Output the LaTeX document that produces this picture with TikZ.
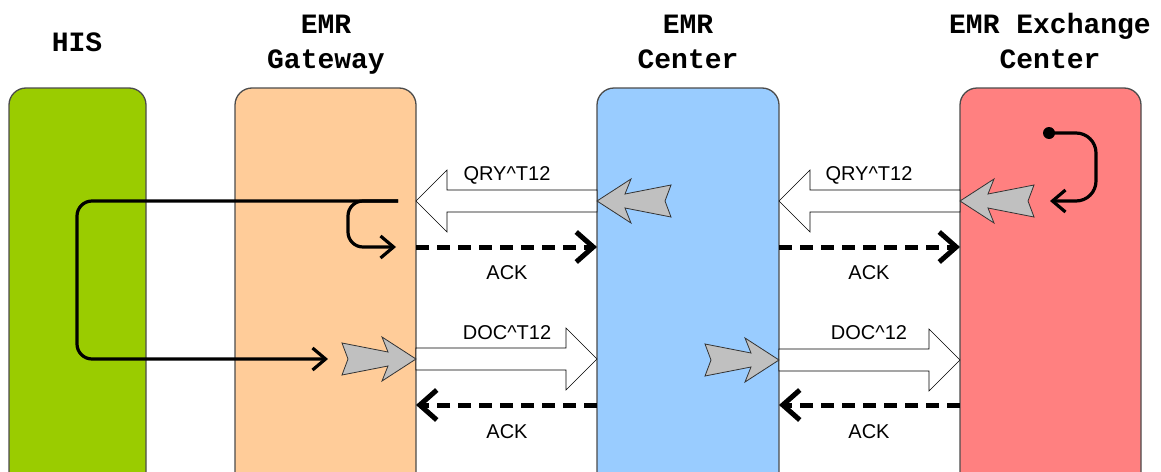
\documentclass[tikz,border=0pt]{standalone}
\usepackage{fontspec}
\setmainfont{Liberation Sans}
\newfontfamily\titlefont{Liberation Mono}
\usetikzlibrary{arrows.meta}
\definecolor{hisgreen}{RGB}{154,204,0}
\definecolor{gwora}{RGB}{255,204,153}
\definecolor{ctrblue}{RGB}{153,204,255}
\definecolor{excred}{RGB}{255,128,128}
\definecolor{feather}{RGB}{192,192,192}
\tikzset{
  lane/.style={draw=black!70, line width=1.3pt, rounded corners=17pt, minimum height=520pt, anchor=north, inner sep=0pt, outer sep=0pt},
  titletext/.style={font=\titlefont\bfseries\fontsize{28}{34}\selectfont, anchor=base, inner sep=0pt},
  lbl/.style={font=\fontsize{20}{24}\selectfont, anchor=base, inner sep=0pt},
  block/.style={draw=black, line width=0.6pt, fill=white, line join=miter},
  feath/.style={draw=black!80, line width=0.8pt, fill=feather, line join=miter},
  ack/.style={line width=5pt, dash pattern=on 13pt off 8pt, -{Straight Barb[length=17pt,width=30pt]}},
  flow/.style={line width=3.2pt, rounded corners=15pt, -{Straight Barb[length=13pt,width=22pt]}},
  pics/blockarrow/.style={code={
    \draw[block] (0,0) -- (-31,-31) -- (-31,-11) -- (-181,-11) -- (-181,11) -- (-31,11) -- (-31,31) -- cycle;}},
  pics/featherarrow/.style={code={
    \draw[feath] (0,0) -- (-34,-22) -- (-28,-7) -- (-74,-16) -- (-68,0) -- (-74,16) -- (-28,7) -- (-34,22) -- cycle;}},
}
\begin{document}
\begin{tikzpicture}[x=1pt,y=-1pt]
\useasboundingbox (0,0) rectangle (1161,471);
\clip (0,0) rectangle (1161,471);
\fill[white] (0,0) rectangle (1161,471);

% lanes
\node[lane, fill=hisgreen, minimum width=137pt] (his) at (77.5,88) {};
\node[lane, fill=gwora, minimum width=181pt] (gw) at (325.5,88) {};
\node[lane, fill=ctrblue, minimum width=182pt] (ctr) at (688,88) {};
\node[lane, fill=excred, minimum width=181pt] (exc) at (1050.5,88) {};

% titles
\node[titletext] (t1) at (77,51) {HIS};
\node[titletext] (t2a) at (326,33) {EMR};
\node[titletext] (t2b) at (326,68) {Gateway};
\node[titletext] (t3a) at (688,33) {EMR};
\node[titletext] (t3b) at (688,68) {Center};
\node[titletext] (t4a) at (1050,33) {EMR Exchange};
\node[titletext] (t4b) at (1050,68) {Center};

% block arrows
\pic[rotate=180] at (gw.east |- 0,201) {blockarrow};
\pic[rotate=180] at (ctr.east |- 0,201) {blockarrow};
\pic at (ctr.west |- 0,359) {blockarrow};
\pic at (exc.west |- 0,360) {blockarrow};

% feathered arrows
\pic[rotate=180] at (ctr.west |- 0,201) {featherarrow};
\pic[rotate=180] at (exc.west |- 0,201) {featherarrow};
\pic at (gw.east |- 0,359) {featherarrow};
\pic at (ctr.east |- 0,360) {featherarrow};

% acknowledgements
\draw[ack] (gw.east |- 0,247) -- (ctr.west |- 0,247);
\draw[ack] (ctr.east |- 0,247) -- (exc.west |- 0,247);
\draw[ack] (ctr.west |- 0,405) -- (gw.east |- 0,405);
\draw[ack] (exc.west |- 0,405) -- (ctr.east |- 0,405);

% internal flows
\coordinate (gwsrc) at (398,201);
\coordinate (gwret) at (396,247);
\coordinate (gwdoc) at (328,359);
\draw[flow] (gwsrc) -- (348,201) -- (348,247) -- (gwret);
\draw[flow] (gwsrc) -- (77,201) -- (77,359) -- (gwdoc);
\node[circle, fill=black, inner sep=0pt, minimum size=12pt] (dot) at (1049,133) {};
\coordinate (exret) at (1050,201);
\draw[flow, rounded corners=20pt] (dot.center) -- (1096,133) -- (1096,201) -- (exret);

% labels
\node[lbl] (q1) at (507,180) {QRY\textasciicircum T12};
\node[lbl] (q2) at (869,180) {QRY\textasciicircum T12};
\node[lbl] (k1) at (507,279) {ACK};
\node[lbl] (k2) at (869,279) {ACK};
\node[lbl] (d1) at (507,339) {DOC\textasciicircum T12};
\node[lbl] (d2) at (869,339) {DOC\textasciicircum 12};
\node[lbl] (k3) at (507,438) {ACK};
\node[lbl] (k4) at (869,438) {ACK};
\end{tikzpicture}
\end{document}
